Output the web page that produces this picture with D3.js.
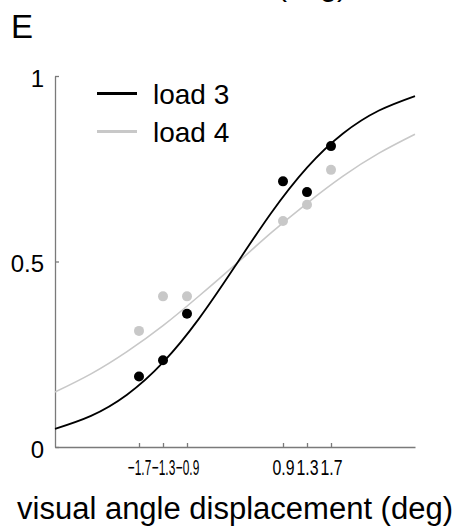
<!DOCTYPE html>
<html>
<head>
<meta charset="utf-8">
<script src="https://cdn.jsdelivr.net/npm/d3@7"></script>
<style>
  body { margin: 0; background: #fff; }
  svg { display: block; font-family: "Liberation Sans", Arial, sans-serif; }
</style>
</head>
<body>
<div id="chart"></div>
<script>
// stimulus steps on the x axis and the degree labels shown for them
const steps = [-4, -3, -2, 2, 3, 4];
const stepLabels = ['\u22121.7', '\u22121.3', '\u22120.9', '0.9', '1.3', '1.7'];

// proportion of responses per load
const load3 = [0.19, 0.234, 0.359, 0.716, 0.687, 0.811];
const load4 = [0.313, 0.406, 0.406, 0.609, 0.653, 0.747];

// fitted curves
const curveX = [-7.5, -6, -4.5, -3, -1.5, 0, 1.5, 3, 4.5, 6, 7.5];
const curve3 = [0.049, 0.084, 0.141, 0.228, 0.346, 0.487, 0.630, 0.753, 0.845, 0.907, 0.946];
const curve4 = [0.148, 0.197, 0.257, 0.327, 0.407, 0.491, 0.577, 0.657, 0.730, 0.792, 0.843];

const yTicks = [0, 0.5, 1];
const seriesNames = ['load 3', 'load 4'];
const colors = ['#000000', '#c8c8c8'];

const width = 454, height = 531;
const axisColor = '#7a7a7a';

const svg = d3.select('#chart')
  .append('svg')
  .attr('width', width)
  .attr('height', height);

svg.append('rect').attr('width', width).attr('height', height).attr('fill', '#fff');

const x = d3.scaleLinear().domain([-7.5, 7.5]).range([55, 415]);
const y = d3.scaleLinear().domain([0, 1]).range([447, 76]);

// fragment of the title of the panel above
svg.append('text')
  .attr('x', 347).attr('y', -4)
  .attr('text-anchor', 'end')
  .style('font-size', '30px')
  .text('(deg)');

svg.append('text')
  .attr('x', 11).attr('y', 38)
  .style('font-size', '33px')
  .text('E');

// axes
const yAxis = d3.axisLeft(y)
  .tickValues(yTicks)
  .tickFormat(d3.format('~g'))
  .tickSizeInner(-4)
  .tickSizeOuter(0)
  .tickPadding(11);

const gy = svg.append('g')
  .attr('transform', 'translate(' + x.range()[0] + ',0)')
  .call(yAxis);
gy.select('.domain').attr('stroke', axisColor).attr('stroke-width', 1.3);
gy.selectAll('.tick line').attr('stroke', axisColor).attr('stroke-width', 1.3);
gy.selectAll('.tick text')
  .attr('fill', '#000')
  .attr('dy', '0.42em')
  .style('font-size', '24px')
  .attr('font-family', '"Liberation Sans", Arial, sans-serif');

const xAxis = d3.axisBottom(x)
  .tickValues(steps)
  .tickFormat((d, i) => stepLabels[i])
  .tickSizeInner(-4)
  .tickSizeOuter(0)
  .tickPadding(0);

const gx = svg.append('g')
  .attr('transform', 'translate(0,' + y.range()[0] + ')')
  .call(xAxis);
gx.select('.domain').attr('stroke', axisColor).attr('stroke-width', 1.3);
gx.selectAll('.tick line').attr('stroke', axisColor).attr('stroke-width', 1.3);
// ticks are only 24px apart, so each label is squeezed to fit its slot
const slot = 23.5;
gx.selectAll('.tick text')
  .attr('fill', '#000')
  .attr('y', 0)
  .attr('dy', null)
  .style('font-size', '22px')
  .attr('font-family', '"Liberation Sans", Arial, sans-serif')
  .attr('transform', function () {
    const s = Math.min(0.72, slot / this.getComputedTextLength());
    return 'translate(0,28) scale(' + s + ',1)';
  });

svg.append('text')
  .attr('x', 235).attr('y', 519)
  .attr('text-anchor', 'middle')
  .style('font-size', '31px')
  .text('visual angle displacement (deg)');

// fitted curves
const line = d3.line()
  .x((d, i) => x(curveX[i]))
  .y(d => y(d))
  .curve(d3.curveNatural);

[curve4, curve3].forEach((c, k) => {
  svg.append('path')
    .attr('d', line(c))
    .attr('fill', 'none')
    .attr('stroke', k === 0 ? colors[1] : colors[0])
    .attr('stroke-width', k === 0 ? 1.6 : 1.8);
});

// data points
[load4, load3].forEach((vals, k) => {
  svg.append('g')
    .selectAll('circle')
    .data(vals)
    .enter()
    .append('circle')
    .attr('cx', (d, i) => x(steps[i]))
    .attr('cy', d => y(d))
    .attr('r', 5)
    .attr('fill', k === 0 ? colors[1] : colors[0]);
});

// legend
const legend = svg.append('g').attr('transform', 'translate(97,93.5)');
seriesNames.forEach((name, i) => {
  legend.append('line')
    .attr('x1', 0).attr('x2', 40)
    .attr('y1', i * 38).attr('y2', i * 38)
    .attr('stroke', colors[i])
    .attr('stroke-width', 3);
  legend.append('text')
    .attr('x', 56).attr('y', i * 38 + 10)
    .style('font-size', '28px')
    .text(name);
});
</script>
</body>
</html>
